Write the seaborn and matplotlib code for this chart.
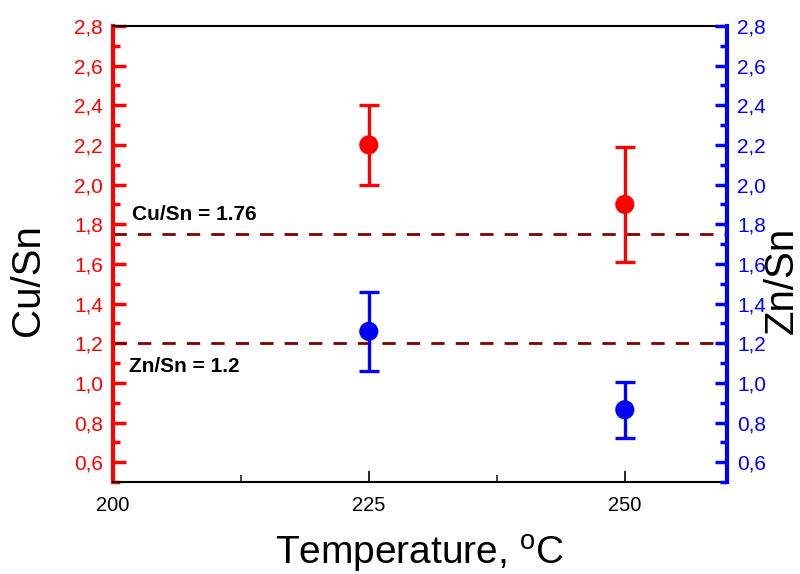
import numpy as np
import pandas as pd
import matplotlib
matplotlib.use('Agg')
import matplotlib.pyplot as plt
import seaborn as sns
from matplotlib.ticker import MultipleLocator, FuncFormatter

# Data
temperature = [225, 250]
cu_sn = [2.20, 1.90]
cu_sn_err = [0.20, 0.29]
zn_sn = [1.26, 0.865]
zn_sn_err = [0.20, 0.14]
cu_ref = 1.75
zn_ref = 1.2
cu_ref_label = 'Cu/Sn = 1.76'
zn_ref_label = 'Zn/Sn = 1.2'

df = pd.DataFrame({'T': temperature, 'Cu/Sn': cu_sn, 'Cu_err': cu_sn_err,
                   'Zn/Sn': zn_sn, 'Zn_err': zn_sn_err})

sns.set_theme(style='ticks')
plt.rcParams['font.family'] = ['Liberation Sans', 'DejaVu Sans']
plt.rcParams['mathtext.fontset'] = 'custom'
plt.rcParams['mathtext.rm'] = 'Liberation Sans'

fig = plt.figure(figsize=(8, 5.74), dpi=100)
ax = fig.add_axes([0.141, 0.160, 0.768, 0.795])
ax2 = ax.twinx()

# dashed reference lines
ax.axhline(cu_ref, color='#800000', lw=2.0, ls=(0, (4.8, 4.0)), zorder=1)
ax.axhline(zn_ref, color='#800000', lw=2.0, ls=(0, (4.8, 4.0)), zorder=1)

# Cu/Sn in red on left axis
ax.errorbar(df['T'], df['Cu/Sn'], yerr=df['Cu_err'], fmt='none', ecolor='red',
            elinewidth=2.4, capsize=7.5, capthick=2.4, zorder=3)
sns.scatterplot(data=df, x='T', y='Cu/Sn', ax=ax, color='red', s=190,
                edgecolor='none', zorder=4, legend=False)

# Zn/Sn in blue on right axis
ax2.errorbar(df['T'], df['Zn/Sn'], yerr=df['Zn_err'], fmt='none', ecolor='blue',
             elinewidth=2.4, capsize=7.5, capthick=2.4, zorder=3)
sns.scatterplot(data=df, x='T', y='Zn/Sn', ax=ax2, color='blue', s=190,
                edgecolor='none', zorder=4, legend=False)

for a in (ax, ax2):
    a.set_ylim(0.5, 2.8)
    a.yaxis.set_major_locator(MultipleLocator(0.2))
    a.yaxis.set_minor_locator(MultipleLocator(0.1))
    a.yaxis.set_major_formatter(FuncFormatter(lambda v, p: f'{v:.1f}'.replace('.', ',')))
    a.grid(False)
    a.set_ylabel('')

ax.set_xlim(200, 260)
ax.set_xticks([200, 225, 250])
ax.xaxis.set_minor_locator(MultipleLocator(12.5))

# spines
ax.spines['left'].set_color('red')
ax.spines['left'].set_linewidth(3)
ax.spines['right'].set_visible(False)
ax2.spines['right'].set_color('blue')
ax2.spines['right'].set_linewidth(3)
ax2.spines['left'].set_visible(False)
for s in ('top', 'bottom'):
    ax.spines[s].set_color('black')
    ax.spines[s].set_linewidth(1.5)
    ax2.spines[s].set_visible(False)

ax.tick_params(axis='y', which='major', direction='in', length=9, width=2.5,
               colors='red', labelsize=15, pad=7)
ax.tick_params(axis='y', which='minor', direction='in', length=5, width=2.5, colors='red')
ax2.tick_params(axis='y', which='major', direction='in', length=9, width=2.5,
                colors='blue', labelsize=15, pad=7)
ax2.tick_params(axis='y', which='minor', direction='in', length=5, width=2.5, colors='blue')
ax.tick_params(axis='x', which='major', direction='in', length=8, width=1.2,
               colors='black', labelsize=14.5, pad=10, top=False)
ax.tick_params(axis='x', which='minor', direction='in', length=5, width=1.2, top=False)

ax.set_xlabel('Temperature, $^{\\rm o}$C', fontsize=28, color='black', labelpad=13)
fig.text(0.035, 0.512, 'Cu/Sn', rotation=90, fontsize=29, color='black',
         ha='center', va='center')
fig.text(0.977, 0.512, 'Zn/Sn', rotation=90, fontsize=29, color='black',
         ha='center', va='center')

ax.text(201.85, 1.82, cu_ref_label, fontsize=15, fontweight='bold', color='black',
        va='baseline')
ax.text(201.55, 1.053, zn_ref_label, fontsize=15, fontweight='bold', color='black',
        va='baseline')

fig.savefig('out.png', dpi=100)
